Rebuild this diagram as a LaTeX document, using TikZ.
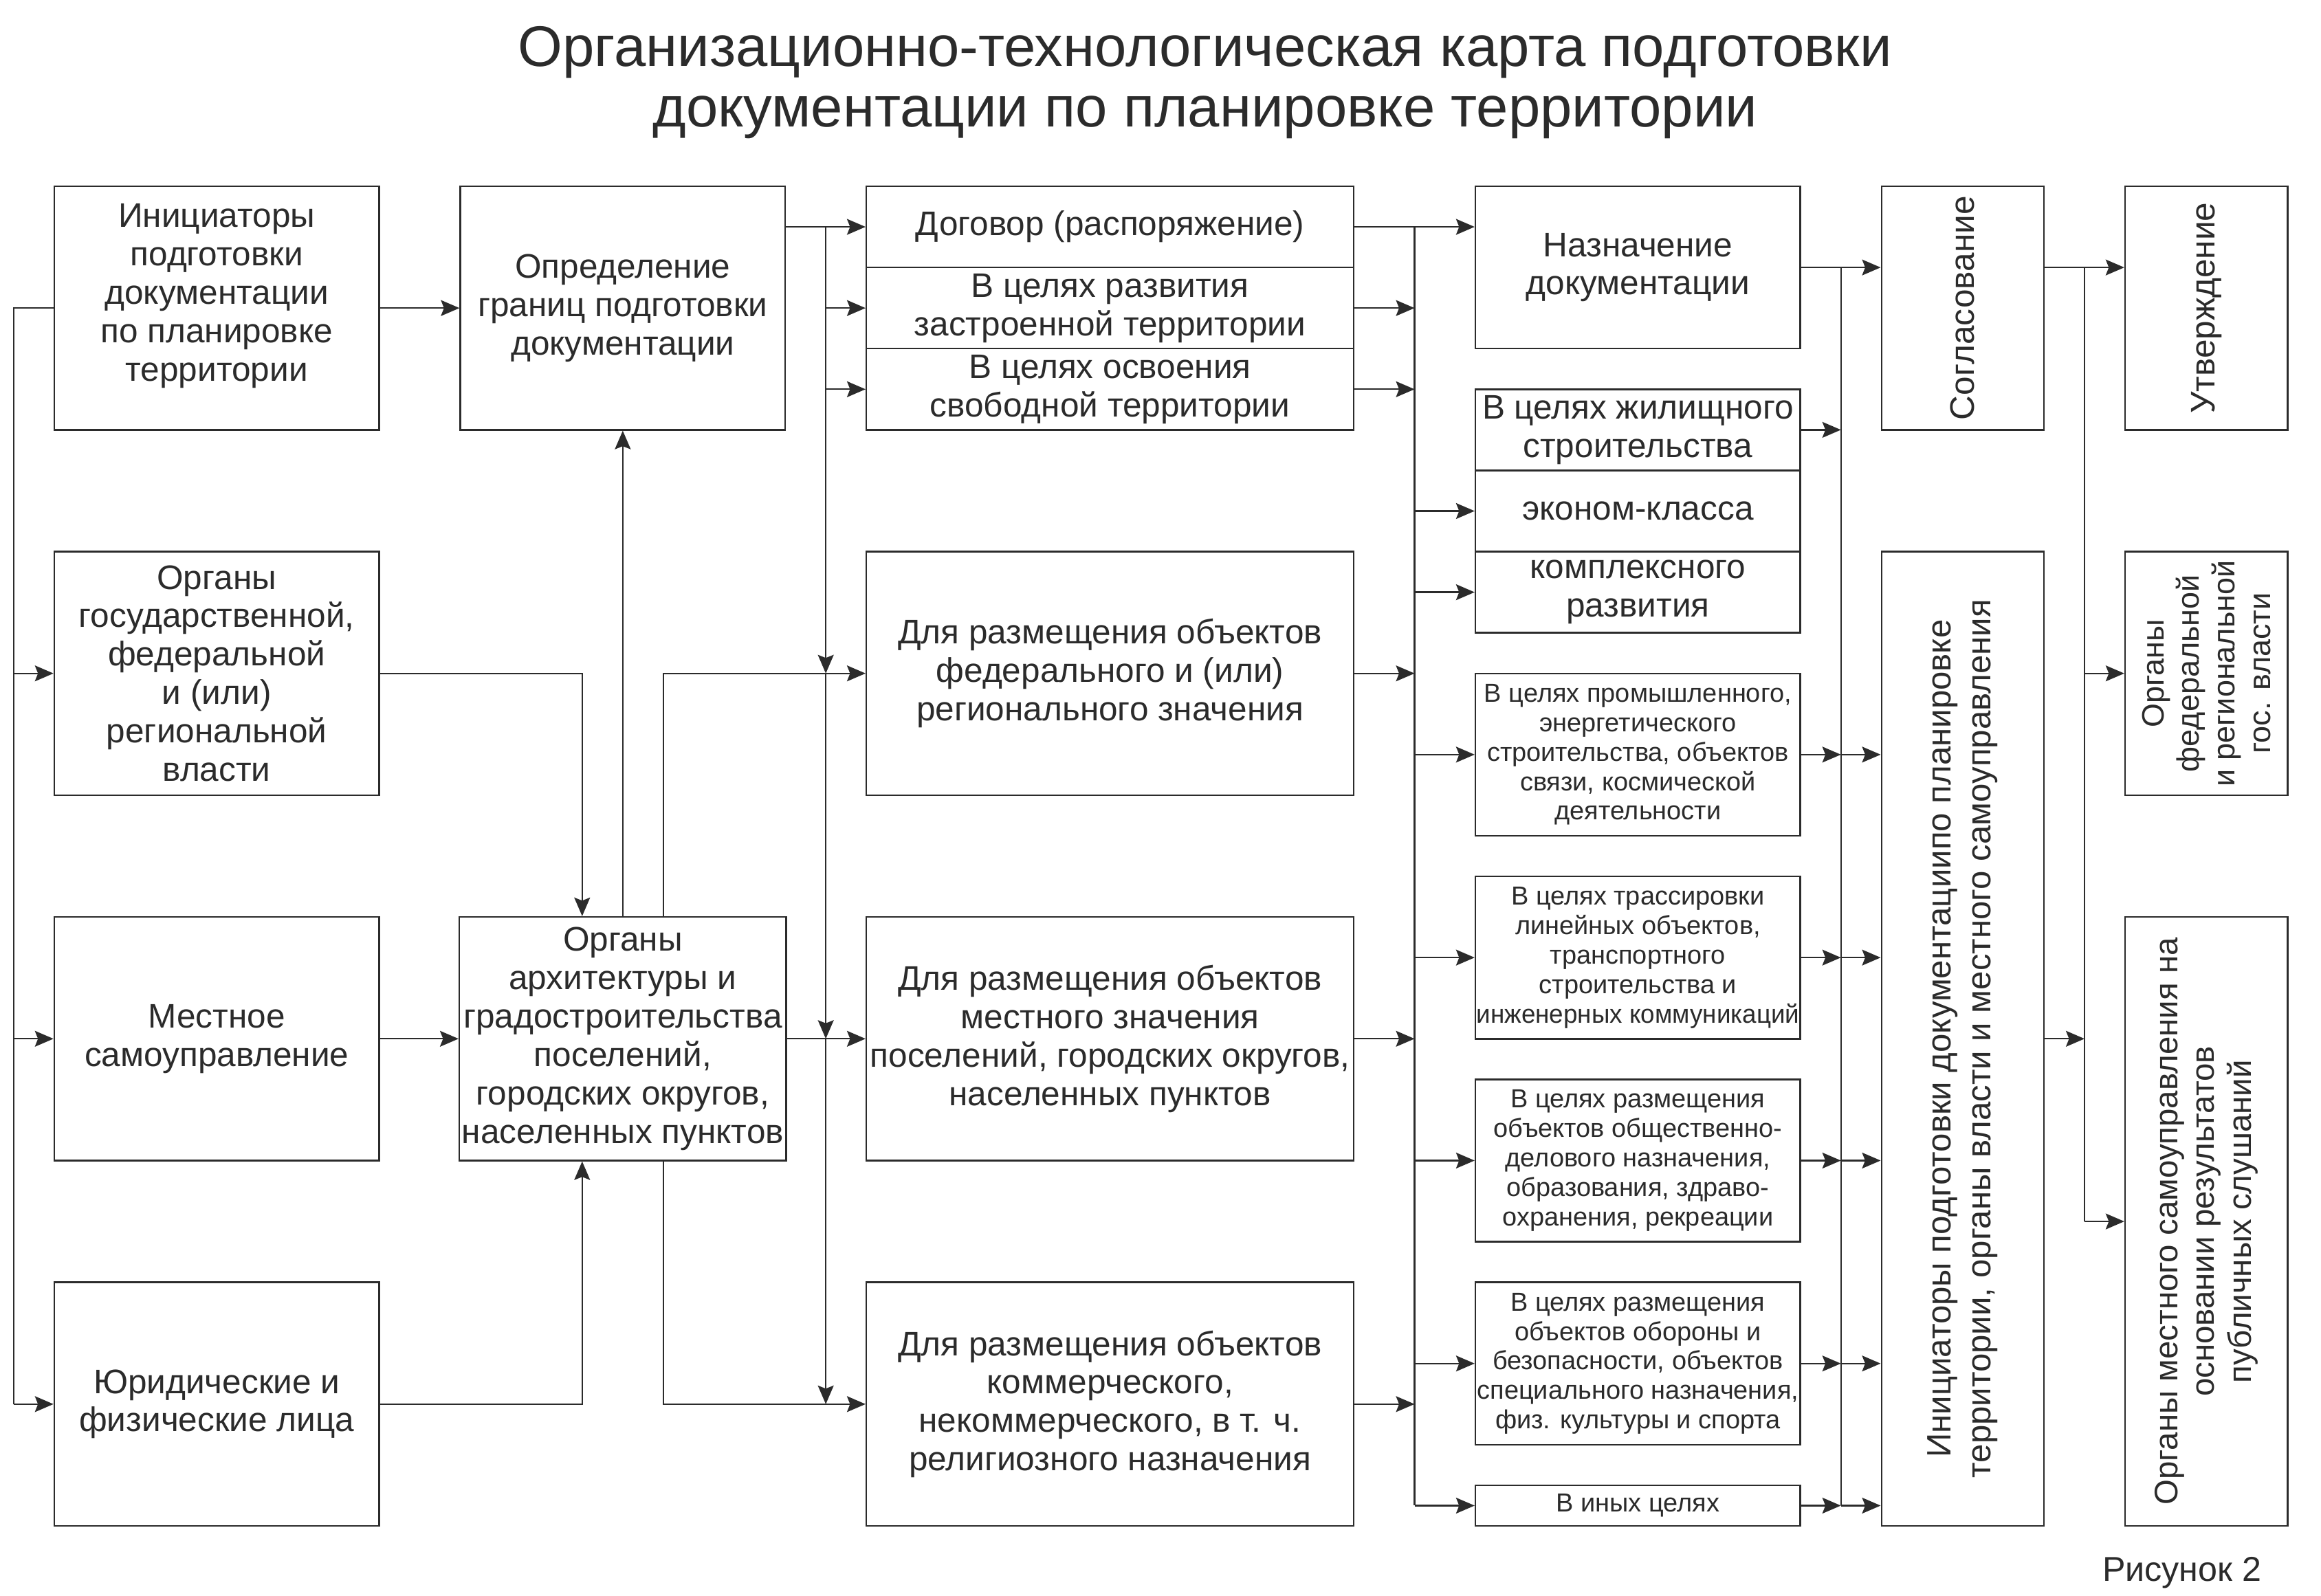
\documentclass[tikz,border=0pt]{standalone}
\usepackage{fontspec}
\setmainfont{Liberation Sans}
\usepackage{graphicx}
\usepackage{tikz}
\usetikzlibrary{arrows.meta}
\definecolor{tttttt}{rgb}{0.17,0.17,0.17}
\tikzset{
  box/.style 2 args={draw=tttttt,text=tttttt,line width=0.7pt,inner sep=1pt,align=center,
    minimum width=#1*5.906mm,minimum height=#2*5.906mm,font=\fontsize{14.1}{15.9}\selectfont},
  vbox/.style 2 args={box={#2}{#1},rotate=90},
  small/.style={inner xsep=0pt,font=\fontsize{10.8}{12.2}\selectfont},
  conn/.style={draw=tttttt,line width=0.65pt,->},
  bus/.style={draw=tttttt,line width=0.65pt}
}
\begin{document}
\begin{tikzpicture}[x=5.906mm,y=-5.906mm,>={Stealth[length=2.7mm,width=2.3mm,inset=0.45mm]}]
\useasboundingbox (-1.3376,-4.5886) rectangle (55.824,34.7104);
% title
\node[text=tttttt,align=center,font=\fontsize{23.7}{25}\selectfont] (title) at (28.34,-2.55)
  {Организационно-технологическая карта подготовки\\документации по планировке территории};
% initiators
\node[box={8}{6}] (ini) at (4,3) {Инициаторы\\подготовки\\документации\\по планировке\\территории\\[-3pt]\mbox{}};
\node[box={8}{6}] (gos) at (4,12) {Органы\\государственной,\\федеральной\\и (или)\\региональной\\власти};
\node[box={8}{6}] (mest) at (4,21) {Местное\\самоуправление};
\node[box={8}{6}] (yur) at (4,30) {Юридические и\\физические лица};
\node[box={8}{6}] (opr) at (14,3) {Определение\\границ подготовки\\документации};
\node[box={8}{6}] (arch) at (14,21) {Органы\\архитектуры и\\градостроительства\\поселений,\\городских округов,\\населенных пунктов};
% basis and purpose
\node[box={12}{2}] (dog) at (26,1) {Договор (распоряжение)};
\node[box={12}{2}] (razv) at (26,3) {В целях развития\\застроенной территории};
\node[box={12}{2}] (osv) at (26,5) {В целях освоения\\свободной территории};
\node[box={12}{6}] (fed) at (26,12) {Для размещения объектов\\федерального и (или)\\регионального значения};
\node[box={12}{6}] (loc) at (26,21) {Для размещения объектов\\местного значения\\поселений, городских округов,\\населенных пунктов};
\node[box={12}{6}] (kom) at (26,30) {Для размещения объектов\\коммерческого,\\некоммерческого, в т. ч.\\религиозного назначения};
\node[box={8}{4}] (naz) at (39,2) {Назначение\\документации};
\node[box={8}{2}] (zhil) at (39,6) {В целях жилищного\\строительства};
\node[box={8}{2}] (ekon) at (39,8) {эконом-класса};
\node[box={8}{2}] (kompl) at (39,10) {комплексного\\развития};
\node[box={8}{4},small] (prom) at (39,14) {В целях промышленного,\\энергетического\\строительства, объектов\\связи, космической\\деятельности};
\node[box={8}{4},small] (trass) at (39,19) {В целях трассировки\\линейных объектов,\\транспортного\\строительства и\\\scalebox{0.97}[1]{инженерных коммуникаций}};
\node[box={8}{4},small] (obsh) at (39,24) {В целях размещения\\объектов общественно-\\делового назначения,\\образования, здраво-\\охранения, рекреации};
\node[box={8}{4},small] (obor) at (39,29) {В целях размещения\\объектов обороны и\\безопасности, объектов\\специального назначения,\\физ. культуры и спорта};
\node[box={8}{1},small] (inye) at (39,32.5) {В иных целях};
% approval
\node[vbox={4}{6}] (sogl) at (47,3) {Согласование};
\node[vbox={4}{24},font=\fontsize{14}{16.5}\selectfont] (inic) at (47,21) {Инициаторы подготовки документациипо планировке\\территории, органы власти и местного самоуправления};
\node[vbox={4}{6}] (utv) at (53,3) {Утверждение};
\node[vbox={4}{6},font=\fontsize{12.8}{14.7}\selectfont] (orgf) at (53,12) {Органы\\федеральной\\и региональной\\гос. власти};
\node[vbox={4}{15},font=\fontsize{13.5}{15.3}\selectfont] (orgm) at (53,25.5) {Органы местного самоуправления на\\основании результатов\\публичных слушаний};
\node[text=tttttt,anchor=base,font=\fontsize{14.3}{16}\selectfont] (fig) at (52.4,34.37) {Рисунок 2};
% bus positions
\coordinate (lb) at (-1,3);
\coordinate (x13) at (13,0);
\coordinate (x15) at (15,0);
\coordinate (b1) at (19,1);
\coordinate (b2) at (33.5,1);
\coordinate (b3) at (44,2);
\coordinate (b4) at (50,2);
% left part
\draw[conn] (ini) -- (opr);
\draw[bus] (ini.west) -- (lb) -- (lb |- yur);
\draw[conn] (lb |- gos) -- (gos);
\draw[conn] (lb |- mest) -- (mest);
\draw[conn] (lb |- yur) -- (yur);
\draw[conn] (gos.east) -| (x13 |- arch.north);
\draw[conn] (mest) -- (arch);
\draw[conn] (yur.east) -| (x13 |- arch.south);
\draw[conn] (arch.north) -- (opr.south);
\draw[conn] (x15 |- arch.north) |- (fed.west);
\draw[conn] (arch) -- (loc);
\draw[conn] (x15 |- arch.south) |- (kom.west);
% first bus
\draw[conn] (opr.east |- dog) -- (dog);
\draw[conn] (b1 |- razv) -- (razv);
\draw[conn] (b1 |- osv) -- (osv);
\draw[conn] (b1) -- (b1 |- fed);
\draw[conn] (b1 |- fed) -- (b1 |- loc);
\draw[conn] (b1 |- loc) -- (b1 |- kom);
% second bus
\draw[conn] (dog.east) -- (naz.west |- dog);
\draw[bus] (b2) -- (b2 |- inye);
\draw[conn] (razv) -- (b2 |- razv);
\draw[conn] (osv) -- (b2 |- osv);
\draw[conn] (fed) -- (b2 |- fed);
\draw[conn] (loc) -- (b2 |- loc);
\draw[conn] (kom) -- (b2 |- kom);
\draw[conn] (b2 |- ekon) -- (ekon);
\draw[conn] (b2 |- kompl) -- (kompl);
\draw[conn] (b2 |- prom) -- (prom);
\draw[conn] (b2 |- trass) -- (trass);
\draw[conn] (b2 |- obsh) -- (obsh);
\draw[conn] (b2 |- obor) -- (obor);
\draw[conn] (b2 |- inye) -- (inye);
% third bus
\draw[conn] (naz.east) -- (sogl.north |- naz);
\draw[bus] (b3) -- (b3 |- inye);
\draw[conn] (zhil) -- (b3 |- zhil);
\draw[conn] (prom) -- (b3 |- prom);
\draw[conn] (trass) -- (b3 |- trass);
\draw[conn] (obsh) -- (b3 |- obsh);
\draw[conn] (obor) -- (b3 |- obor);
\draw[conn] (inye) -- (b3 |- inye);
\draw[conn] (b3 |- prom) -- (inic.north |- prom);
\draw[conn] (b3 |- trass) -- (inic.north |- trass);
\draw[conn] (b3 |- obsh) -- (inic.north |- obsh);
\draw[conn] (b3 |- obor) -- (inic.north |- obor);
\draw[conn] (b3 |- inye) -- (inic.north |- inye);
% fourth bus
\draw[conn] (sogl.south |- b4) -- (utv.north |- b4);
\draw[bus] (b4) -- (b4 |- orgm);
\draw[conn] (b4 |- orgf) -- (orgf);
\draw[conn] (b4 |- orgm) -- (orgm);
\draw[conn] (inic) -- (b4 |- inic);
\end{tikzpicture}
\end{document}
